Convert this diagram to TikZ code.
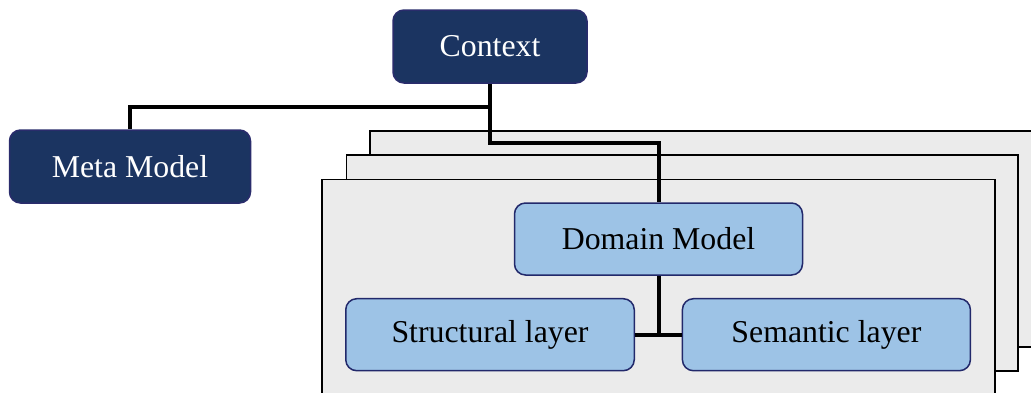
\documentclass[tikz,border=0pt]{standalone}
\usepackage{fontspec}
\setmainfont{Liberation Serif}
\definecolor{navyfill}{HTML}{1B3461}
\definecolor{navyedge}{HTML}{2A2C6C}
\definecolor{lightfill}{HTML}{9DC3E6}
\definecolor{lightedge}{HTML}{22296B}
\definecolor{layergray}{HTML}{EBEBEB}
\begin{document}
\begin{tikzpicture}[x=1pt,y=-1pt,
  darkbox/.style={draw=navyedge, fill=navyfill, line width=1.5pt, rounded corners=11pt,
    text=white, font=\fontsize{31.8}{36}\selectfont, inner sep=0pt},
  lightbox/.style={draw=lightedge, fill=lightfill, line width=1.5pt, rounded corners=11pt,
    text=black, font=\fontsize{31.8}{36}\selectfont, inner sep=0pt},
  layerbg/.style={draw=black, fill=layergray, line width=1.5pt},
  conn/.style={draw=black, line width=4pt}]
\useasboundingbox (0,0) rectangle (1031,392);
\begin{scope}
\clip (0,0) rectangle (1031,392);
\draw[layerbg] (370,131) rectangle (1045,347);
\draw[layerbg] (346.5,155) rectangle (1018,371);
\draw[layerbg] (322,179.5) rectangle (995,400);
\end{scope}
\node[darkbox, minimum width=194pt, minimum height=73pt] (ctx) at (490,46.5) {Context};
\node[darkbox, minimum width=241pt, minimum height=73pt] (meta) at (130,166.5) {Meta Model};
\node[lightbox, minimum width=288pt, minimum height=72pt] (dom) at (658.5,239) {Domain Model};
\node[lightbox, minimum width=288.5pt, minimum height=72pt] (str) at (490,334.7) {Structural layer};
\node[lightbox, minimum width=288pt, minimum height=72pt] (sem) at (826.4,334.7) {Semantic layer};
\coordinate (j1) at (490,107);
\coordinate (j2) at (490,143);
\draw[conn] (ctx.south) -- (j1) -| (meta.north);
\draw[conn] (j1) -- (j2) -| (dom.north);
\draw[conn] (dom.south) -- (dom.south |- str.east);
\draw[conn] (str.east) -- (sem.west);
\end{tikzpicture}
\end{document}
